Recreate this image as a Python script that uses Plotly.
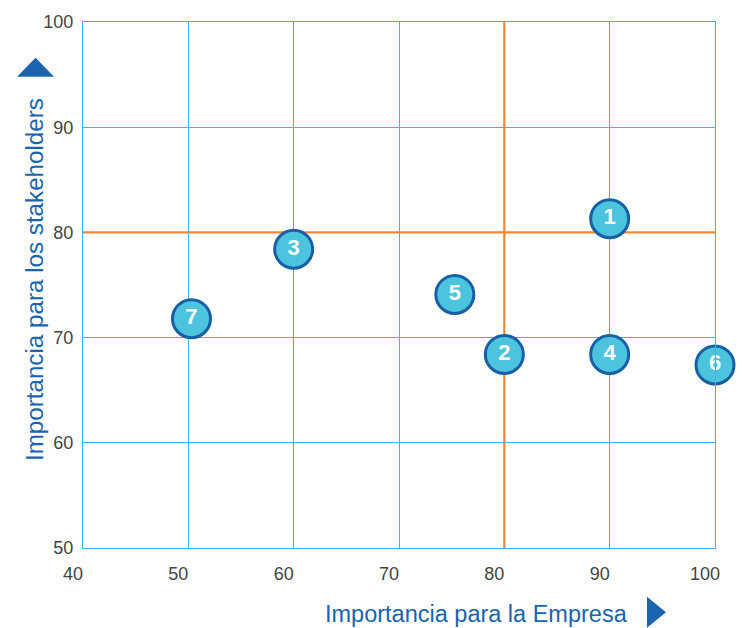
import plotly.graph_objects as go

labels = ["1", "2", "3", "4", "5", "6", "7"]
empresa = [90, 80, 60, 90, 75.3, 100, 50.3]
stakeholders = [81.3, 68.4, 78.4, 68.4, 74.1, 67.4, 71.8]

x_ticks = [40, 50, 60, 70, 80, 90, 100]
y_ticks = [50, 60, 70, 80, 90, 100]
x_range = [40, 100]
y_range = [50, 100]
threshold_x = 80
threshold_y = 80

GRID = "#38b6ea"
ORANGE = "#f3872f"
TITLE = "#1a64ad"
FONT = "Liberation Sans, Arial, sans-serif"

fig = go.Figure()

# threshold lines (drawn as traces so that they sit above the grid but below the markers)
fig.add_trace(go.Scatter(x=[threshold_x, threshold_x], y=y_range, mode="lines",
                         line=dict(color=ORANGE, width=2.2), hoverinfo="skip", showlegend=False))
fig.add_trace(go.Scatter(x=x_range, y=[threshold_y, threshold_y], mode="lines",
                         line=dict(color=ORANGE, width=2.2), hoverinfo="skip", showlegend=False))

fig.add_trace(go.Scatter(
    x=empresa, y=stakeholders, mode="markers+text", text=labels,
    textposition="middle center",
    textfont=dict(family=FONT, size=22, color="white", weight="bold"),
    marker=dict(size=38, color="#4cc4de", line=dict(color="#1760a6", width=3)),
    cliponaxis=False, hoverinfo="skip", showlegend=False,
))

# triangles
fig.add_shape(type="path", xref="paper", yref="paper",
              path="M -0.1043 0.8958 L -0.0459 0.8958 L -0.0751 0.9318 Z",
              fillcolor=TITLE, line=dict(width=0))
fig.add_shape(type="path", xref="paper", yref="paper",
              path="M 0.8924 -0.0928 L 0.8924 -0.1515 L 0.9224 -0.1221 Z",
              fillcolor=TITLE, line=dict(width=0))

fig.add_annotation(xref="paper", yref="paper", x=-0.077, y=0.510, xanchor="center", yanchor="middle",
                   text="Importancia para los stakeholders",
                   textangle=-90, showarrow=False, font=dict(family=FONT, size=24.2, color=TITLE))
fig.add_annotation(xref="paper", yref="paper", x=0.622, y=-0.125, xanchor="center", yanchor="middle",
                   text="Importancia para la Empresa",
                   showarrow=False, font=dict(family=FONT, size=23.5, color=TITLE))

axis_common = dict(showgrid=True, gridcolor=GRID, gridwidth=1.4, showline=True, linecolor=GRID,
                   linewidth=1.4, mirror=True, zeroline=False, ticks="",
                   tickfont=dict(family=FONT, size=18, color="#444444"))

fig.update_xaxes(range=x_range, tickvals=x_ticks, ticklabelstandoff=9, ticklabelshift=-10, **axis_common)
fig.update_yaxes(range=y_range, tickvals=y_ticks, ticklabelstandoff=5, **axis_common)

fig.update_layout(
    width=742, height=628,
    margin=dict(l=83, r=27, t=20, b=80),
    plot_bgcolor="white", paper_bgcolor="white",
)

fig.write_html("out.html")
